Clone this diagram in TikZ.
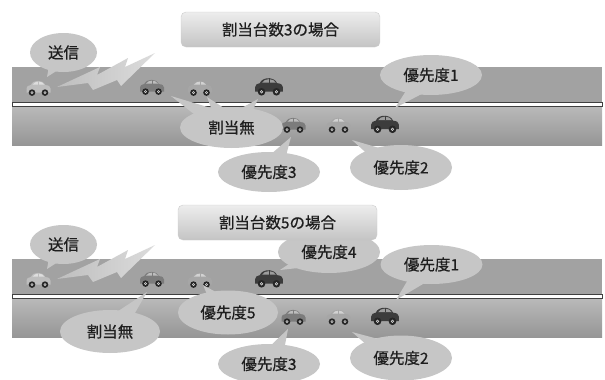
\documentclass[tikz,border=0pt]{standalone}
\usepackage{fontspec}
\setmainfont{Noto Sans CJK JP}[FakeBold=0.6]
\usetikzlibrary{shapes.geometric,calc}

\definecolor{lanetop}{HTML}{A2A2A2}
\definecolor{laneA}{HTML}{B9B9B9}
\definecolor{laneB}{HTML}{969696}
\definecolor{calloutfill}{HTML}{C6C6C6}
\definecolor{titleA}{HTML}{EDEDED}
\definecolor{titleB}{HTML}{C4C4C4}
\definecolor{boltA}{HTML}{BEBEBE}
\definecolor{boltB}{HTML}{DCDCDC}
\definecolor{carlight}{HTML}{BDBDBD}
\definecolor{carpale}{HTML}{A6A6A6}
\definecolor{carmid}{HTML}{7C7C7C}
\definecolor{cardark}{HTML}{3C3C3C}
\definecolor{inktext}{HTML}{1E1E1E}

\pgfdeclarelayer{road}
\pgfdeclarelayer{tails}
\pgfsetlayers{road,tails,main}

\tikzset{
  callout/.style={ellipse, fill=calloutfill, inner sep=0pt, text=inktext,
    font=\fontsize{15.5}{18}\selectfont},
  titlebox/.style={rounded corners=5pt, top color=titleA, bottom color=titleB,
    draw=black!20, line width=0.4pt, inner sep=0pt, text=inktext,
    font=\fontsize{15.5}{18}\selectfont},
  divider/.style={draw=black!75, line width=0.9pt, fill=white},
  pics/car/.style={code={
    % body with rounded roof
    \fill[#1] (-12,4.5) -- (-12,0.5) .. controls (-12,-1.5) and (-10.5,-2.6) .. (-8,-2.9)
      .. controls (-6,-8.6) and (5,-8.6) .. (7,-2.9)
      .. controls (10.5,-2.6) and (12,-1.5) .. (12,0.5) -- (12,4.5) -- cycle;
    % windows
    \fill[white, opacity=0.5] (-6,-3.3) .. controls (-4,-7.4) and (4,-7.4) .. (6,-3.3) -- cycle;
    \draw[#1, line width=0.8pt] (0,-7.2) -- (0,-3.3);
    % wheels
    \foreach \wx in {-6.5,6.5}{
      \fill[black!85] (\wx,4.6) circle (3.3);
      \fill[white!85!black] (\wx,4.6) circle (1.5);
      \fill[black!70] (\wx,4.6) circle (0.6);
    }
  }}
}

% oval callout: name, centre, width, height, text
\newcommand\callout[5]{\node[callout, minimum width=#3, minimum height=#4] (#1) at (#2) {#5};}
% wedge-shaped pointer from a callout to a named tip
\newcommand\calltail[2]{%
  \begin{pgfonlayer}{tails}
    \fill[calloutfill] ($(#1.center)!0.3!(#2)!9pt!90:(#2)$) -- (#2)
      -- ($(#1.center)!0.3!(#2)!9pt!-90:(#2)$) -- cycle;
  \end{pgfonlayer}}

% two-lane road with its cars, the transmitting car's bubble and the radio bolt
\newcommand\roadscene[1]{%
  \begin{pgfonlayer}{road}
    \fill[lanetop] (12,67) rectangle (602,102);
    \shade[top color=laneA, bottom color=laneB] (12,106.5) rectangle (602,145);
    \draw[divider] (12,102) rectangle (602,106.5);
    \pic (u1#1) at (38.5,88) {car=carlight};
    \pic (u2#1) at (152,87) {car=carmid};
    \pic (u3#1) at (200,88) {car=carpale};
    \pic[scale=1.15] (u4#1) at (269,86.5) {car=cardark};
    \pic (l1#1) at (293.5,125) {car=carmid};
    \pic (l2#1) at (338.5,125) {car=carpale};
    \pic[scale=1.15] (l3#1) at (385,124) {car=cardark};
    \shade[left color=boltA, right color=boltB]
      (57,87) -- (100,67) -- (97,75) -- (128,58) -- (125,67) -- (155,53)
      -- (121,86) -- (117,80) -- (93,90) -- (88,83) -- cycle;
  \end{pgfonlayer}
  \callout{send#1}{63.5,52.5}{67pt}{39pt}{送信}
  \coordinate (send#1tip) at (47,77);
  \calltail{send#1}{send#1tip}
}

\begin{document}
\begin{tikzpicture}[x=1pt,y=-1pt]
\useasboundingbox (0,0) rectangle (605,380);

% ---------- case: 3 allocated ----------
\roadscene{A}
\callout{noneA}{231.5,127.5}{103pt}{41pt}{割当無}
\coordinate (noneAt1) at (171,96);
\coordinate (noneAt2) at (207,97);
\coordinate (noneAt3) at (258,99);
\calltail{noneA}{noneAt1}
\calltail{noneA}{noneAt2}
\calltail{noneA}{noneAt3}

\callout{pthreeA}{269,172}{102pt}{40pt}{優先度3}
\coordinate (pthreeAt) at (291,137);
\calltail{pthreeA}{pthreeAt}

\callout{ptwoA}{401,167.5}{102pt}{45pt}{優先度2}
\coordinate (ptwoAt) at (352,140);
\calltail{ptwoA}{ptwoAt}

\callout{poneA}{431,75}{102pt}{40pt}{優先度1}
\coordinate (poneAt) at (395,108);
\calltail{poneA}{poneAt}

\node[titlebox, minimum width=199pt, minimum height=35pt] (titleA) at (280.5,29.5) {割当台数3の場合};

% ---------- case: 5 allocated ----------
\begin{scope}[yshift=-192pt]
\roadscene{B}
\end{scope}

\callout{noneB}{110,331.5}{100pt}{43pt}{割当無}
\coordinate (noneBt) at (147,292);
\calltail{noneB}{noneBt}

\callout{pfiveB}{228,312.5}{100pt}{44pt}{優先度5}
\coordinate (pfiveBt) at (203,285);
\calltail{pfiveB}{pfiveBt}

\callout{pfourB}{329,252}{102pt}{42pt}{優先度4}
\coordinate (pfourBt) at (280,270);
\calltail{pfourB}{pfourBt}

\callout{poneB}{431.5,264.5}{102pt}{39pt}{優先度1}
\coordinate (poneBt) at (396,300);
\calltail{poneB}{poneBt}

\callout{pthreeB}{269,364}{102pt}{40pt}{優先度3}
\coordinate (pthreeBt) at (288,329);
\calltail{pthreeB}{pthreeBt}

\callout{ptwoB}{401,358}{102pt}{45pt}{優先度2}
\coordinate (ptwoBt) at (352,332);
\calltail{ptwoB}{ptwoBt}

\node[titlebox, minimum width=199pt, minimum height=35pt] (titleB) at (277.5,222.5) {割当台数5の場合};
\end{tikzpicture}
\end{document}
